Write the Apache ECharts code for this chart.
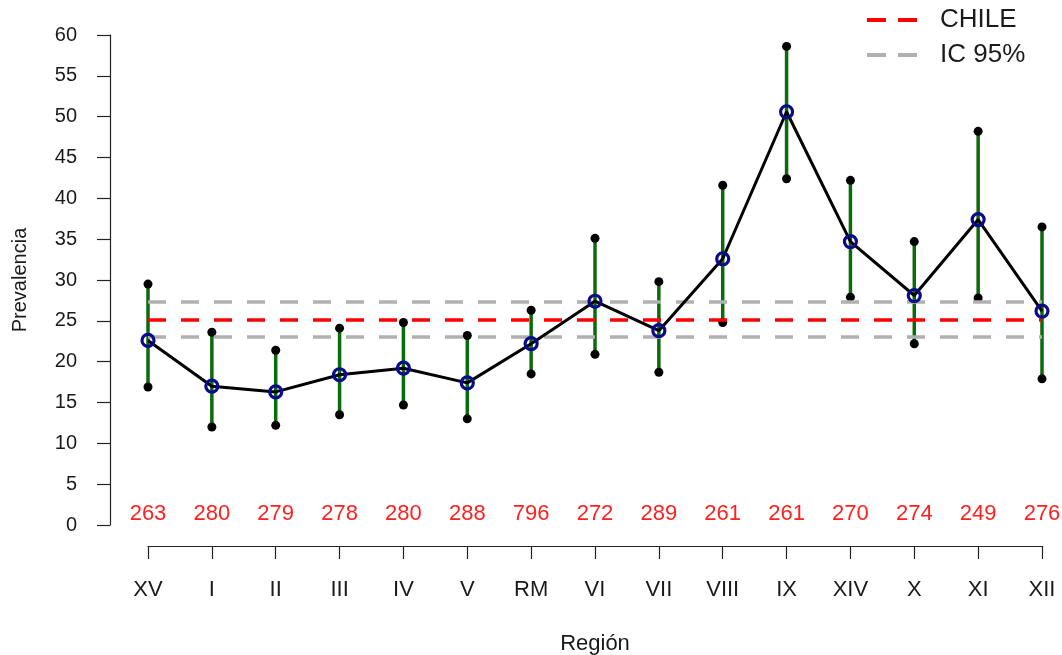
<!DOCTYPE html>
<html>
<head>
<meta charset="utf-8">
<script src="https://cdn.jsdelivr.net/npm/echarts@6/dist/echarts.min.js"></script>
<style>
html,body{margin:0;padding:0;background:#fff;}
#chart{width:1062px;height:655px;}
</style>
</head>
<body>
<div id="chart"></div>
<script>
const regions = ['XV','I','II','III','IV','V','RM','VI','VII','VIII','IX','XIV','X','XI','XII'];
const counts = ['263','280','279','278','280','288','796','272','289','261','261','270','274','249','276'];
const prevalence = [22.6, 17.0, 16.3, 18.4, 19.2, 17.4, 22.2, 27.4, 23.8, 32.6, 50.6, 34.7, 28.1, 37.4, 26.2];
const lowerCI = [16.9, 12.0, 12.2, 13.5, 14.7, 13.0, 18.5, 20.9, 18.7, 24.8, 42.4, 27.9, 22.2, 27.8, 17.9];
const upperCI = [29.5, 23.6, 21.4, 24.1, 24.8, 23.2, 26.3, 35.1, 29.8, 41.6, 58.6, 42.2, 34.7, 48.2, 36.5];
const chileValue = 25.1;
const chileCI = [23.1, 27.35];
const yTicks = {min: 0, max: 60, interval: 5};

const textColor = '#1a1a1a';
const font = 'Liberation Sans, Arial, sans-serif';

const chart = echarts.init(document.getElementById('chart'), null, {renderer: 'canvas'});

const barData = regions.map((r, i) => [i, lowerCI[i], upperCI[i]]);
const endData = [];
regions.forEach((r, i) => { endData.push([i, lowerCI[i]]); endData.push([i, upperCI[i]]); });

const option = {
  animation: false,
  backgroundColor: '#ffffff',
  grid: {left: 148, right: 20, top: 35, bottom: 130, containLabel: false, outerBoundsMode: 'none'},
  legend: {
    orient: 'vertical',
    left: 862,
    top: 2,
    itemGap: 9,
    itemWidth: 50,
    itemHeight: 4,
    icon: 'path://M0,0h19v4h-19z M31,0h19v4h-19z',
    textStyle: {fontSize: 26, color: textColor, fontFamily: font, padding: [0, 0, 0, 18]},
    data: ['CHILE', 'IC 95%']
  },
  xAxis: [
    {
      type: 'category',
      data: regions,
      boundaryGap: false,
      position: 'bottom',
      offset: 21,
      axisLine: {show: true, onZero: false, lineStyle: {color: '#222', width: 1.2}},
      axisTick: {show: true, length: 13, alignWithLabel: true, lineStyle: {color: '#222', width: 1.2}},
      axisLabel: {color: textColor, fontSize: 22, fontFamily: font, margin: 33, interval: 0},
      splitLine: {show: false},
      name: 'Región',
      nameLocation: 'middle',
      nameGap: 87,
      nameTextStyle: {color: textColor, fontSize: 22, fontFamily: font}
    },
    {
      type: 'category',
      data: counts,
      boundaryGap: false,
      position: 'bottom',
      offset: -40,
      axisLine: {show: false, onZero: false},
      axisTick: {show: false},
      axisLabel: {color: '#ff2020', fontSize: 22, fontFamily: font, margin: 18, interval: 0},
      splitLine: {show: false}
    }
  ],
  yAxis: {
    type: 'value',
    min: yTicks.min,
    max: yTicks.max,
    interval: yTicks.interval,
    offset: 38,
    axisLine: {show: true, onZero: false, lineStyle: {color: '#222', width: 1.2}},
    axisTick: {show: true, length: 13, lineStyle: {color: '#222', width: 1.2}},
    axisLabel: {color: textColor, fontSize: 20, fontFamily: font, margin: 33},
    splitLine: {show: false},
    name: 'Prevalencia',
    nameLocation: 'middle',
    nameGap: 80,
    nameRotate: 90,
    nameTextStyle: {color: textColor, fontSize: 20, fontFamily: font}
  },
  series: [
    {
      name: 'IC 95%',
      type: 'line',
      data: [],
      itemStyle: {color: '#b0b0b0'},
      lineStyle: {color: '#b0b0b0'},
      markLine: {
        silent: true,
        symbol: ['none', 'none'],
        label: {show: false},
        lineStyle: {color: '#b0b0b0', type: [18, 15], width: 3.5},
        data: [{yAxis: chileCI[0]}, {yAxis: chileCI[1]}]
      }
    },
    {
      name: 'CHILE',
      type: 'line',
      data: [],
      itemStyle: {color: '#ff0000'},
      lineStyle: {color: '#ff0000'},
      markLine: {
        silent: true,
        symbol: ['none', 'none'],
        label: {show: false},
        lineStyle: {color: '#ff0000', type: [18, 15], width: 3.5},
        data: [{yAxis: chileValue}]
      }
    },
    {
      name: 'bars',
      type: 'custom',
      data: barData,
      z: 3,
      renderItem: function (params, api) {
        const p1 = api.coord([api.value(0), api.value(1)]);
        const p2 = api.coord([api.value(0), api.value(2)]);
        return {
          type: 'line',
          shape: {x1: p1[0], y1: p1[1], x2: p2[0], y2: p2[1]},
          style: {stroke: '#0b6b0b', lineWidth: 3.5}
        };
      }
    },
    {
      name: 'ends',
      type: 'scatter',
      data: endData,
      symbol: 'circle',
      symbolSize: 9,
      z: 4,
      itemStyle: {color: '#000', opacity: 1}
    },
    {
      name: 'mean',
      type: 'line',
      data: prevalence,
      z: 5,
      symbol: 'circle',
      symbolSize: 12,
      showSymbol: true,
      lineStyle: {color: '#000', width: 3},
      itemStyle: {color: 'rgba(0,0,0,0)', borderColor: '#0a0a8c', borderWidth: 3.2}
    }
  ]
};
chart.setOption(option);
</script>
</body>
</html>
